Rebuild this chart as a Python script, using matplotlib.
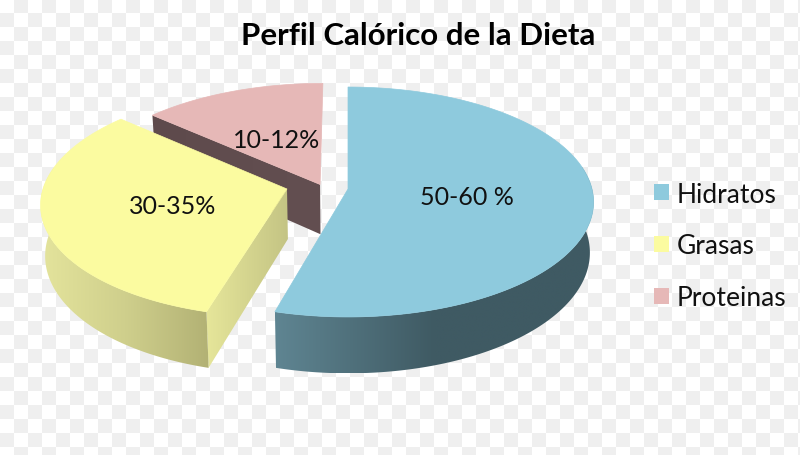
import matplotlib
matplotlib.use('Agg')
import matplotlib.pyplot as plt
import numpy as np
from matplotlib.colors import LinearSegmentedColormap
from matplotlib.patches import Patch, Polygon

# data (shares)
categories = ['Hidratos', 'Grasas', 'Proteinas']
shares = [54.3, 32.2, 13.5]
labels = ['50-60 %', '30-35%', '10-12%']

# look
top_colors = ['#8ecadd', '#fbfba0', '#e6b8b7']
rim_colors = [['#5f8592', '#3f5a63', '#3f5a63'],
              ['#e4e49c', '#cfcf8c', '#b2b174'],
              ['#5e4a4c', '#5e4a4c']]
cut_colors = [['#3f5a63', '#3f5a63'],
              ['#e6e69a', '#c4c484'],
              ['#5e4a4c', '#634f51']]
explode = [(0.0, 0.0), (-0.25, 0.0), (-0.115, 0.04)]
label_pos = [(467, 198), (173, 207), (277, 141)]

CX, CY = 348, 190
A, B, K = 244, 113.5, 0.113
DEPTH = 50

plt.rcParams['font.family'] = ['Lato', 'DejaVu Sans']


def project(u, v):
    w = 1 + K * v
    return CX + A * u / w, CY - B * v / w


def lower(u, v):
    # same disc point on the underside of the cake
    x, y = project(u, v)
    return CX + (x - CX) * 0.985, y + DEPTH / (1 + K * v)


def shaded(ax, top, bottom, colors):
    pts = np.vstack([top, bottom[::-1]])
    patch = Polygon(pts, closed=True, facecolor='none', edgecolor='none')
    ax.add_patch(patch)
    cmap = LinearSegmentedColormap.from_list('side', colors)
    im = ax.imshow(np.linspace(0, 1, 256)[None, :], cmap=cmap, aspect='auto',
                   extent=[pts[:, 0].min(), pts[:, 0].max(),
                           pts[:, 1].max(), pts[:, 1].min()],
                   interpolation='bilinear')
    im.set_clip_path(patch)


fig = plt.figure(figsize=(8, 4.56), dpi=100)
ax = fig.add_axes([0, 0, 1, 1])

# transparent-looking checker background
cols, rows = np.meshgrid(np.arange(58), np.arange(33))
checker = (cols + rows) % 2
ax.imshow(checker, cmap=LinearSegmentedColormap.from_list('bg', ['#ffffff', '#efefef']),
          extent=[0, 58 * 14, 33 * 14, 0], interpolation='nearest', aspect='auto')

# slices clockwise from twelve o'clock
edges = np.cumsum([0] + shares) / sum(shares) * 2 * np.pi

for i in [2, 1, 0]:
    du, dv = explode[i]
    th = np.linspace(edges[i], edges[i + 1], 200)
    u = np.sin(th) + du
    v = np.cos(th) + dv
    rim_top = np.column_stack(project(u, v))
    # cut face at the start of the slice, the other one looks away
    cu = np.array([du, u[0]])
    cv = np.array([dv, v[0]])
    shaded(ax, np.column_stack(project(cu, cv)),
           np.column_stack(lower(cu, cv)), cut_colors[i])
    # only the near part of the rim can be seen
    near = np.cos(th) < 0.2
    if near.any():
        shaded(ax, rim_top[near], np.column_stack(lower(u[near], v[near])), rim_colors[i])
    apex = np.array(project(du, dv))
    ax.add_patch(Polygon(np.vstack([apex, rim_top]), closed=True,
                         facecolor=top_colors[i], edgecolor=top_colors[i], lw=0.5))

for text, (x, y) in zip(labels, label_pos):
    ax.text(x, y, text, fontsize=18, ha='center', va='center', color='#111111')

ax.text(418, 36, 'Perfil Calórico de la Dieta', fontsize=22.5, fontweight='bold',
        ha='center', va='center', color='black')

handles = [Patch(facecolor=c, edgecolor='none', label=n)
           for c, n in zip(top_colors, categories)]
fs = 19
px = fs * 100 / 72
ax.legend(handles=handles, loc='center left', bbox_to_anchor=(654 / 800, 1 - 247 / 456),
          frameon=False, fontsize=fs, handlelength=15 / px, handleheight=15 / px,
          handletextpad=8 / px, labelspacing=(49.5 - 0.856 * px) / px, borderpad=0,
          borderaxespad=0, labelcolor='#111111')

ax.set_xlim(0, 800)
ax.set_ylim(456, 0)
ax.axis('off')
fig.savefig('out.png', dpi=100)
